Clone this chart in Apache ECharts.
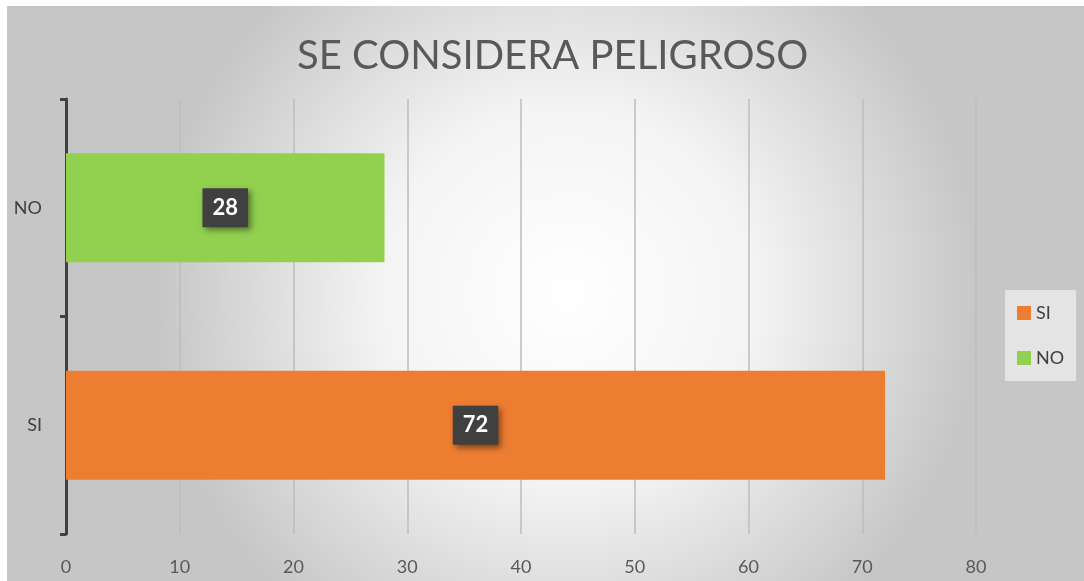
<!DOCTYPE html>
<html>
<head>
<meta charset="utf-8">
<script src="https://cdn.jsdelivr.net/npm/echarts@6/dist/echarts.min.js"></script>
<style>
  html, body { margin: 0; padding: 0; background: #fff; }
  #chart { width: 1084px; height: 581px; }
</style>
</head>
<body>
<div id="chart"></div>
<script>
// datos
const categories = ['SI', 'NO'];
const siValues = [72, null];
const noValues = [null, 28];
const xTicks = [0, 10, 20, 30, 40, 50, 60, 70, 80];

const chart = echarts.init(document.getElementById('chart'));

const labelBox = {
  show: true,
  position: 'inside',
  color: '#fff',
  fontFamily: 'Lato',
  fontWeight: 'bold',
  fontSize: 22,
  backgroundColor: '#404040',
  padding: [9, 10, 8, 10],
  shadowColor: 'rgba(0,0,0,0.45)',
  shadowBlur: 6,
  shadowOffsetX: 3,
  shadowOffsetY: 3
};

chart.setOption({
  animation: false,
  textStyle: { fontFamily: 'Lato' },
  graphic: [{
    type: 'rect',
    z: -10,
    silent: true,
    shape: { x: 7, y: 6, width: 1077, height: 575 },
    style: {
      fill: new echarts.graphic.RadialGradient(0.52, 0.5, 0.72, [
        { offset: 0, color: '#ffffff' },
        { offset: 0.45, color: '#f4f4f4' },
        { offset: 1, color: '#c6c6c6' }
      ])
    }
  }],
  title: {
    text: 'SE CONSIDERA PELIGROSO',
    left: 292,
    top: 31,
    textStyle: { fontFamily: 'Lato', fontSize: 40, fontWeight: 'normal', color: '#595959' }
  },
  legend: {
    orient: 'vertical',
    left: 1005,
    top: 290,
    padding: [14, 12, 14, 12],
    backgroundColor: '#e4e4e4',
    itemWidth: 14,
    itemHeight: 14,
    itemGap: 27,
    icon: 'rect',
    data: ['SI', 'NO'],
    textStyle: { fontFamily: 'Lato', fontSize: 18, color: '#404040' }
  },
  grid: { left: 66, right: 108, top: 99, bottom: 47 },
  xAxis: {
    type: 'value',
    min: xTicks[0],
    max: xTicks[xTicks.length - 1],
    interval: 10,
    axisLine: { show: false },
    axisTick: { show: false },
    axisLabel: { fontFamily: 'Lato', fontSize: 18, color: '#595959', margin: 24 },
    splitLine: { lineStyle: { color: '#bdbdbd', width: 1.5 } }
  },
  yAxis: {
    type: 'category',
    data: categories,
    axisLine: { lineStyle: { color: '#404040', width: 3 } },
    axisTick: { show: true, length: 6, lineStyle: { color: '#404040', width: 3 } },
    axisLabel: { fontFamily: 'Lato', fontSize: 18, color: '#404040', margin: 24 }
  },
  series: [
    {
      name: 'SI',
      type: 'bar',
      stack: 'total',
      barWidth: 109,
      itemStyle: { color: '#ED7D31' },
      label: labelBox,
      data: siValues
    },
    {
      name: 'NO',
      type: 'bar',
      stack: 'total',
      barWidth: 109,
      itemStyle: { color: '#92D050' },
      label: labelBox,
      data: noValues
    }
  ]
});
</script>
</body>
</html>
